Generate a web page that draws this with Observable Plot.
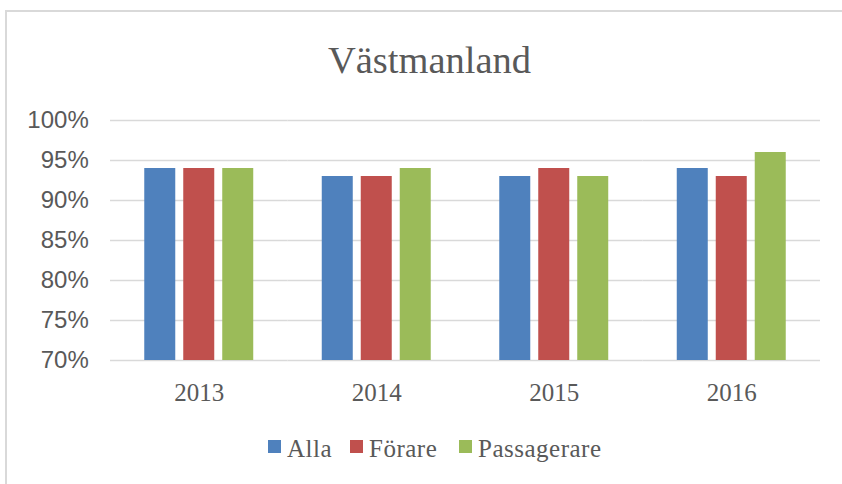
<!DOCTYPE html>
<html>
<head>
<meta charset="utf-8">
<script src="https://cdn.jsdelivr.net/npm/d3@7"></script>
<script src="https://cdn.jsdelivr.net/npm/@observablehq/plot@0.6"></script>
<style>
  html, body { margin: 0; padding: 0; background: #ffffff; }
  #chart { position: relative; width: 842px; height: 484px; overflow: hidden; background: #ffffff; }
  #frame { position: absolute; left: 5px; top: 10px; right: -10px; bottom: -10px;
           border-left: 2px solid #d9d9d9; border-top: 2px solid #d9d9d9; }
  #title { position: relative; height: 100px; box-sizing: border-box; padding-top: 41px; padding-left: 17px;
           font-family: "Liberation Serif", serif; font-size: 38.5px; line-height: 38.5px;
           color: #595959; text-align: center; white-space: nowrap; }
  #plot svg { display: block; }
  #legend { position: relative; height: 64px; }
  .item { position: absolute; top: 0; height: 64px; }
  .swatch { position: absolute; top: 20px; width: 13px; height: 13px; }
  .label { position: absolute; top: 16px; font-family: "Liberation Serif", serif; font-size: 25px;
           line-height: 25px; letter-spacing: 0.5px; color: #595959; white-space: nowrap; }
</style>
</head>
<body>
<div id="chart">
  <div id="frame"></div>
  <div id="title"></div>
  <div id="plot"></div>
  <div id="legend"></div>
</div>
<script>
// ---- Data ----
const title = "Västmanland";
const years = ["2013", "2014", "2015", "2016"];
const series = ["Alla", "Förare", "Passagerare"];
const alla = [0.94, 0.93, 0.93, 0.94];
const forare = [0.94, 0.93, 0.94, 0.93];
const passagerare = [0.94, 0.94, 0.93, 0.96];
const seriesColors = ["#4f81bd", "#c0504d", "#9bbb59"];
const yTicks = [0.70, 0.75, 0.80, 0.85, 0.90, 0.95, 1.00];
const yDomain = [0.70, 1.00];

// ---- Build table ----
const seriesValues = [alla, forare, passagerare];
const data = years.flatMap((yr, i) =>
  series.map((s, j) => ({ year: yr, series: s, value: seriesValues[j][i] }))
);

document.getElementById("title").textContent = title;

const textColor = "#595959";
const gridColor = "#d9d9d9";

const chart = Plot.plot({
  width: 842,
  height: 320,
  marginTop: 20,
  marginBottom: 60,
  marginLeft: 110,
  marginRight: 22,
  style: { background: "transparent", color: textColor, overflow: "visible" },
  fx: { domain: years, paddingInner: 0.386, paddingOuter: 0.193, round: false, label: null },
  x: { domain: series, paddingInner: 0.205, paddingOuter: 0, round: false, axis: null },
  y: { domain: yDomain, axis: null },
  color: { domain: series, range: seriesColors },
  marks: [
    Plot.ruleY(yTicks, { stroke: gridColor, strokeWidth: 1.5, insetLeft: -34.25, insetRight: -34.25 }),
    Plot.barY(data, { fx: "year", x: "series", y1: yDomain[0], y2: "value", fill: "series" }),
    Plot.axisY(yTicks, {
      tickSize: 0, tickPadding: 56, label: null,
      tickFormat: d => Math.round(d * 100) + "%",
      fontSize: 24, fontFamily: "Liberation Sans", fill: textColor
    }),
    Plot.axisFx({
      anchor: "bottom",
      tickSize: 0, tickPadding: 23, label: null,
      fontSize: 25, fontFamily: "Liberation Serif", fill: textColor
    })
  ]
});
document.getElementById("plot").appendChild(chart);

// ---- Legend ----
const legendSwatchX = [268, 350, 459];
const legend = document.getElementById("legend");
series.forEach((s, i) => {
  const item = document.createElement("div");
  item.className = "item";
  item.style.left = legendSwatchX[i] + "px";
  const sw = document.createElement("div");
  sw.className = "swatch";
  sw.style.left = "0px";
  sw.style.background = seriesColors[i];
  const lb = document.createElement("div");
  lb.className = "label";
  lb.style.left = "19px";
  lb.textContent = s;
  item.appendChild(sw);
  item.appendChild(lb);
  legend.appendChild(item);
});
</script>
</body>
</html>
